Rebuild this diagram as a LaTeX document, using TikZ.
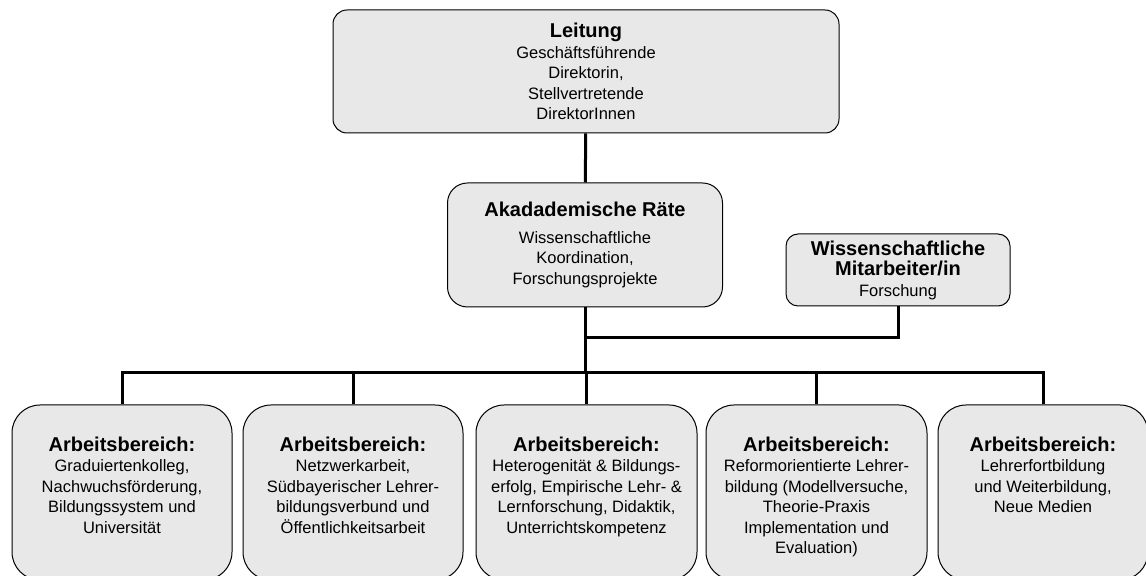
\documentclass[tikz,border=0pt]{standalone}
\usepackage{fontspec}
\setmainfont{Liberation Sans}
\usetikzlibrary{positioning}

\newcommand{\hd}[1]{{\fontsize{10}{11}\selectfont\bfseries #1}}

\begin{document}
\begin{tikzpicture}[x=0.5pt, y=-0.5pt]
		\tikzset{box/.style={draw, fill=black!9, line width=0.5pt, rounded corners=7pt, align=center, inner sep=0pt, font=\fontsize{8.25}{10.25}\selectfont}}
		\tikzset{area/.style={box, rounded corners=14pt, minimum height=87.5pt}}
		\tikzset{areatext/.style={anchor=north, align=center, inner sep=0pt, font=\fontsize{8.25}{10.25}\selectfont}}
		\tikzset{edge/.style={line width=1.5pt}}
		\clip (0,0) rectangle (1146,576);
		%upper boxes
		\node[box, minimum width=253pt, minimum height=61.5pt] (leitung) at (586, 71.5) {\hd{Leitung}\\Geschäftsführende\\Direktorin,\\Stellvertretende\\DirektorInnen};
		\node[box, rounded corners=10pt, minimum width=137.5pt, minimum height=62pt] (akad) at (585, 245) {\hd{Akadademische Räte}\\[3pt]Wissenschaftliche\\Koordination,\\Forschungsprojekte};
		\node[box, rounded corners=6pt, minimum width=112pt, minimum height=36pt] (wiss) at (898, 270) {\hd{Wissenschaftliche}\\\hd{Mitarbeiter/in}\\Forschung};
		%areas
		\node[area, minimum width=110pt] (a1) at (122, 492.5) {};
		\node[area, minimum width=110pt] (a2) at (353, 492.5) {};
		\node[area, minimum width=110.5pt] (a3) at (586.5, 492.5) {};
		\node[area, minimum width=110.5pt] (a4) at (816.5, 492.5) {};
		\node[area, minimum width=105pt] (a5) at (1043, 492.5) {};
		\node[areatext, below=16pt of a1.north] (t1) {\hd{Arbeitsbereich:}\\Graduiertenkolleg,\\Nachwuchsförderung,\\Bildungssystem und\\Universität};
		\node[areatext, below=16pt of a2.north] (t2) {\hd{Arbeitsbereich:}\\Netzwerkarbeit,\\Südbayerischer Lehrer-\\bildungsverbund und\\Öffentlichkeitsarbeit};
		\node[areatext, below=16pt of a3.north] (t3) {\hd{Arbeitsbereich:}\\Heterogenität \& Bildungs-\\erfolg, Empirische Lehr- \&\\Lernforschung, Didaktik,\\Unterrichtskompetenz};
		\node[areatext, below=16pt of a4.north] (t4) {\hd{Arbeitsbereich:}\\Reformorientierte Lehrer-\\bildung (Modellversuche,\\Theorie-Praxis\\Implementation und\\Evaluation)};
		\node[areatext, below=16pt of a5.north] (t5) {\hd{Arbeitsbereich:}\\Lehrerfortbildung\\und Weiterbildung,\\Neue Medien};
		%edges
		\coordinate (join) at (585, 338);
		\coordinate (bus) at (585, 373);
		\draw[edge] (leitung) -- (akad);
		\draw[edge] (akad.south) -- (bus);
		\draw[edge] (wiss.south) |- (join);
		\draw[edge] (a1.north) |- (bus) -| (a5.north);
		\foreach \i in {2,3,4}
			\draw[edge] (a\i.north) -- (a\i.north |- bus);
\end{tikzpicture}
\end{document}
